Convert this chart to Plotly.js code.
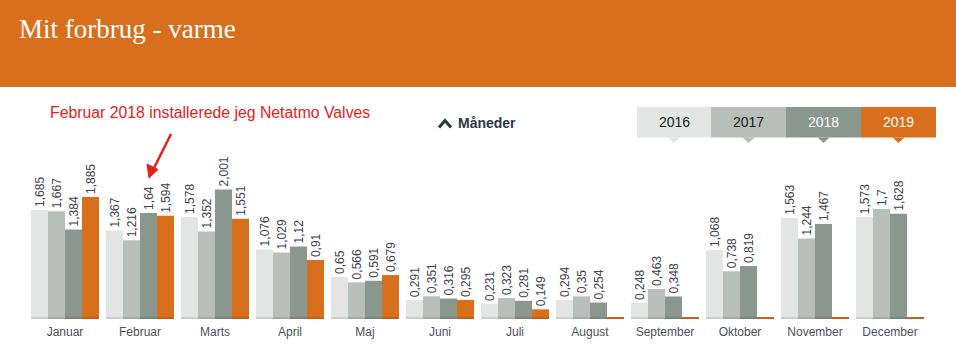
<!DOCTYPE html>
<html>
<head>
<meta charset="utf-8">
<script src="https://cdn.plot.ly/plotly-3.0.1.min.js"></script>
<style>html,body{margin:0;padding:0;background:#fff;}#chart{width:956px;height:351px;}</style>
</head>
<body>
<div id="chart"></div>
<script>
// ---- data ----
const months = ["Januar","Februar","Marts","April","Maj","Juni","Juli","August","September","Oktober","November","December"];
const years = ["2016","2017","2018","2019"];
const v2016 = [1.685,1.367,1.578,1.076,0.65,0.291,0.231,0.294,0.248,1.068,1.563,1.573];
const v2017 = [1.667,1.216,1.352,1.029,0.566,0.351,0.323,0.35,0.463,0.738,1.244,1.7];
const v2018 = [1.384,1.64,2.001,1.12,0.591,0.316,0.281,0.254,0.348,0.819,1.467,1.628];
const v2019 = [1.885,1.594,1.551,0.91,0.679,0.295,0.149,null,null,null,null,null];
const series = [v2016, v2017, v2018, v2019];

// ---- style ----
const colors = ["#e2e5e3","#b7bfba","#8a978f","#d86f1d"];
const stripColors = ["#c9cdca","#a2aaa5","#78857e","#c25f12"];
const W = 956, PH = 319, pxPerUnit = 64.7;
const pitch = 75, firstCenter = 65, barW = 17;
const px = x => x / W;
const py = y => 1 - y / PH;
const fmt = v => (v === null ? "" : String(v).replace(".", ","));

const traces = [];
series.forEach((vals, k) => {
  traces.push({
    type: "bar", x: months, y: vals, name: years[k],
    marker: {color: colors[k]},
    width: barW / pitch, offset: (-34 + k * barW) / pitch,
    text: vals.map(fmt), textposition: "outside", textangle: -90,
    constraintext: "none",
    textfont: {family: "Liberation Sans, Arial, sans-serif", size: 12, color: "#3e424b"},
    cliponaxis: false, hoverinfo: "x+y", showlegend: false
  });
});
// darker base strip under every bar slot
series.forEach((vals, k) => {
  traces.push({
    type: "bar", x: months, y: months.map(() => 0.03),
    marker: {color: stripColors[k]},
    width: barW / pitch, offset: (-34 + k * barW) / pitch,
    hoverinfo: "skip", showlegend: false
  });
});

const shapes = [
  {type: "rect", xref: "paper", yref: "paper", x0: 0, x1: 1, y0: py(87), y1: 1.0,
   fillcolor: "#d86f1d", line: {width: 0}, layer: "below"},
  {type: "line", xref: "paper", yref: "paper", x0: px(171), y0: py(134), x1: px(153), y1: py(170),
   line: {color: "#e8201a", width: 2.5}},
  {type: "path", xref: "paper", yref: "paper",
   path: `M ${px(149)} ${py(178)} L ${px(147)} ${py(164)} L ${px(158)} ${py(169.5)} Z`,
   fillcolor: "#e8201a", line: {color: "#e8201a", width: 1}},
  {type: "path", xref: "paper", yref: "paper",
   path: `M ${px(439)} ${py(127.5)} L ${px(445)} ${py(120.5)} L ${px(451)} ${py(127.5)}`,
   line: {color: "#2f3545", width: 3}}
];

const annotations = [
  {xref: "paper", yref: "paper", x: px(17), y: py(29), xanchor: "left", yanchor: "middle",
   text: "Mit forbrug - varme", showarrow: false,
   font: {family: "Liberation Serif, serif", size: 27, color: "#ffffff"}},
  {xref: "paper", yref: "paper", x: px(48), y: py(113), xanchor: "left", yanchor: "middle",
   text: "Februar 2018 installerede jeg Netatmo Valves", showarrow: false,
   font: {family: "Liberation Sans, Arial, sans-serif", size: 15.8, color: "#e2231a"}},
  {xref: "paper", yref: "paper", x: px(456), y: py(123), xanchor: "left", yanchor: "middle",
   text: "<b>Måneder</b>", showarrow: false,
   font: {family: "Liberation Sans, Arial, sans-serif", size: 14, color: "#2f3545"}}
];

const boxX = [637, 711, 786, 861, 936];
const boxText = ["#1a1a1a", "#1a1a1a", "#ffffff", "#ffffff"];
years.forEach((yr, k) => {
  const x0 = boxX[k], x1 = boxX[k + 1], cx = (x0 + x1) / 2;
  shapes.push({type: "rect", xref: "paper", yref: "paper", x0: px(x0), x1: px(x1), y0: py(137.5), y1: py(107),
    fillcolor: colors[k], line: {width: 0}});
  shapes.push({type: "path", xref: "paper", yref: "paper",
    path: `M ${px(cx - 6)} ${py(137.5)} L ${px(cx + 6)} ${py(137.5)} L ${px(cx)} ${py(143)} Z`,
    fillcolor: colors[k], line: {width: 0}});
  annotations.push({xref: "paper", yref: "paper", x: px(cx), y: py(122), xanchor: "center", yanchor: "middle",
    text: yr, showarrow: false,
    font: {family: "Liberation Sans, Arial, sans-serif", size: 14, color: boxText[k]}});
});

const layout = {
  width: 956, height: 351,
  margin: {l: 0, r: 0, t: 0, b: 32},
  paper_bgcolor: "#ffffff", plot_bgcolor: "rgba(0,0,0,0)",
  barmode: "overlay",
  xaxis: {type: "category", range: [-firstCenter / pitch, (W - firstCenter) / pitch],
    showgrid: false, zeroline: false, showline: false, ticks: "", fixedrange: true,
    ticklabelstandoff: 4,
    tickfont: {family: "Liberation Sans, Arial, sans-serif", size: 12, color: "#4b505b"}},
  yaxis: {range: [0, PH / pxPerUnit], visible: false, fixedrange: true},
  shapes: shapes, annotations: annotations,
  showlegend: false
};

Plotly.newPlot("chart", traces, layout, {displayModeBar: false, staticPlot: true});
</script>
</body>
</html>
